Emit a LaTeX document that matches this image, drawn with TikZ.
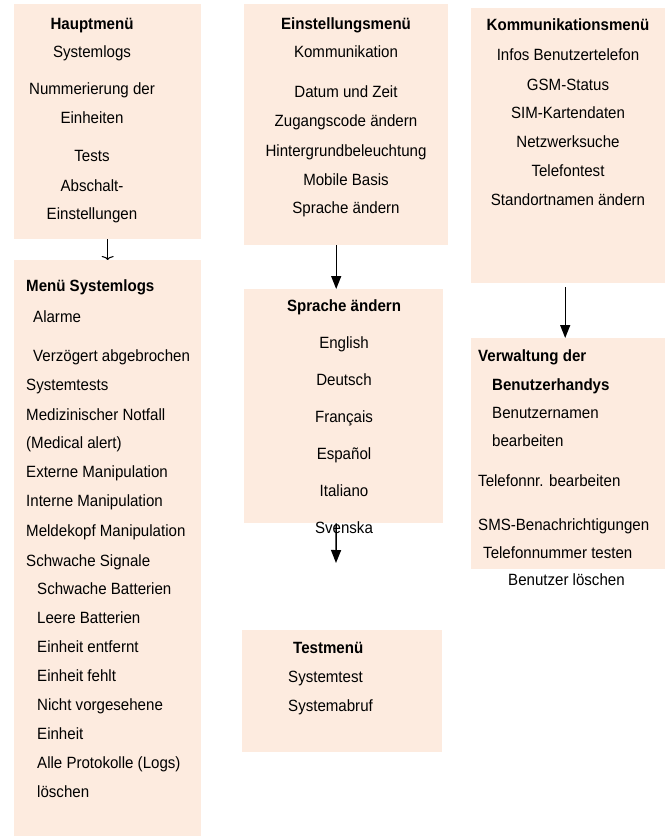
\documentclass[tikz,border=0pt]{standalone}
\usepackage{fontspec}
\setmainfont{Liberation Sans}[FakeStretch=0.925]
\usetikzlibrary{positioning,calc,arrows.meta}
\definecolor{menufill}{HTML}{FDEBDF}

\begin{document}
\begin{tikzpicture}[x=1pt,y=-1pt,
    menubox/.style={fill=menufill, draw=none, inner sep=0pt, anchor=north west},
    entry/.style={inner sep=0pt, font=\fontsize{16.3}{19}\selectfont, text height=0.72em, text depth=0.02em},
    head/.style={entry, font=\fontsize{16.3}{19}\selectfont\bfseries},
    arr/.style={line width=1.4pt, -{Triangle[length=13pt,width=10pt]}}]
  \useasboundingbox (0,0) rectangle (665,836);
  % boxes
  \node[menubox, minimum width=187pt, minimum height=235pt] (hm) at (14,4) {};
  \node[menubox, minimum width=187pt, minimum height=576pt] (sl) at (14,260) {};
  \node[menubox, minimum width=204pt, minimum height=241pt] (em) at (244,4) {};
  \node[menubox, minimum width=199pt, minimum height=234pt] (sp) at (244,289) {};
  \node[menubox, minimum width=200pt, minimum height=122pt] (tm) at (242,630) {};
  \node[menubox, minimum width=194pt, minimum height=275pt] (km) at (471,8) {};
  \node[menubox, minimum width=194pt, minimum height=231pt] (vb) at (471,338) {};

  % Hauptmenü
  \node[head] (hmh) at (92,26) {Hauptmenü};
  \foreach \y/\t [count=\i] in {54/Systemlogs, 91/Nummerierung der, 120/Einheiten, 158/Tests, 188/Abschalt-, 216/Einstellungen}
    \node[entry] (hm\i) at (92,\y) {\t};

  % Einstellungsmenü
  \node[head] (emh) at (346,26) {Einstellungsmenü};
  \foreach \y/\t [count=\i] in {54/Kommunikation, 94/Datum und Zeit, 123/Zugangscode ändern, 153/Hintergrundbeleuchtung, 182/Mobile Basis, 210/Sprache ändern}
    \node[entry] (em\i) at (346,\y) {\t};

  % Kommunikationsmenü
  \node[head] (kmh) at (568,27) {Kommunikationsmenü};
  \foreach \y/\t [count=\i] in {57/Infos Benutzertelefon, 87/GSM-Status, 115/SIM-Kartendaten, 144/Netzwerksuche, 173/Telefontest, 202/Standortnamen ändern}
    \node[entry] (km\i) at (568,\y) {\t};

  % Menü Systemlogs
  \node[head, anchor=west] (slh) at (26,288) {Menü Systemlogs};
  \foreach \x/\y/\t [count=\i] in {33/319/Alarme, 33/358/Verzögert abgebrochen, 26/387/Systemtests, 26/417/Medizinischer Notfall, 26/445/{(Medical alert)}, 26/474/Externe Manipulation, 26/503/Interne Manipulation, 26/533/Meldekopf Manipulation, 26/563/Schwache Signale, 37/591/Schwache Batterien, 37/620/Leere Batterien, 37/649/Einheit entfernt, 37/678/Einheit fehlt, 37/707/Nicht vorgesehene, 37/736/Einheit, 37/765/{Alle Protokolle (Logs)}, 37/794/löschen}
    \node[entry, anchor=west] (sl\i) at (\x,\y) {\t};

  % Sprache ändern
  \node[head] (sph) at (344,308) {Sprache ändern};
  \foreach \y/\t [count=\i] in {345/English, 382/Deutsch, 419/Français, 456/Español, 493/Italiano, 530/Svenska}
    \node[entry] (sp\i) at (344,\y) {\t};

  % Testmenü
  \node[head, anchor=west] (tmh) at (293,650) {Testmenü};
  \node[entry, anchor=west] (tm1) at (288,679) {Systemtest};
  \node[entry, anchor=west] (tm2) at (288,708) {Systemabruf};

  % Verwaltung der Benutzerhandys
  \node[head, anchor=west] (vbh) at (478,358) {Verwaltung der};
  \node[head, anchor=west] (vbh2) at (492,387) {Benutzerhandys};
  \foreach \x/\y/\t [count=\i] in {492/415/Benutzernamen, 492/443/bearbeiten, 478/483/Telefonnr. bearbeiten, 478/527/SMS-Benachrichtigungen, 483/555/Telefonnummer testen, 508/582/Benutzer löschen}
    \node[entry, anchor=west] (vb\i) at (\x,\y) {\t};

  % arrows
  \draw[line width=1pt, -{To[length=4pt,width=12pt]}] (hm.south) -- (sl.north);
  \draw[arr] ([xshift=-10pt]em.south) -- ([xshift=-7.5pt]sp.north);
  \coordinate (tmin) at (336,563);
  \draw[arr] ([xshift=-7.5pt]sp.south) -- (tmin);
  \draw[arr, shorten <=4pt] ([xshift=-3pt]km.south) -- ([xshift=-3pt]vb.north);
\end{tikzpicture}
\end{document}
